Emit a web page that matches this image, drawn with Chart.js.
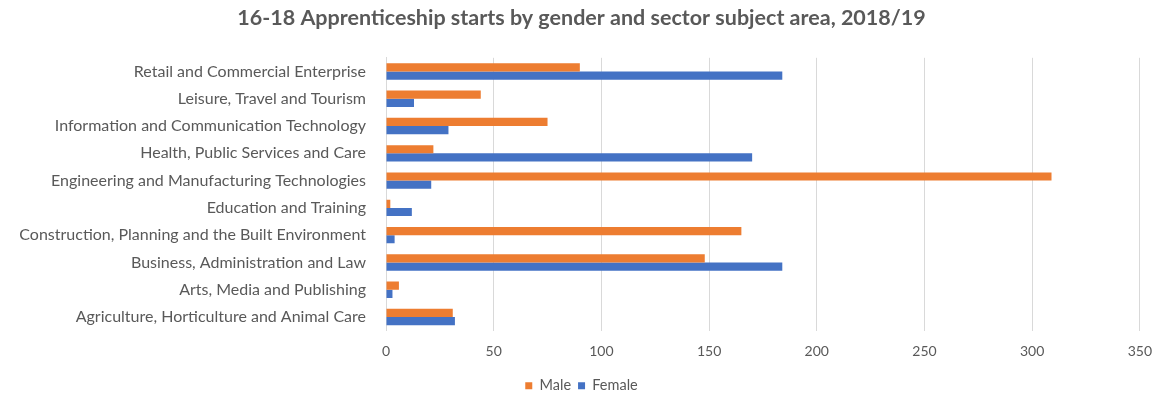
<!DOCTYPE html>
<html>
<head>
<meta charset="utf-8">
<script src="https://cdn.jsdelivr.net/npm/chart.js@4.4.1/dist/chart.umd.min.js"></script>
<style>
  html, body { margin: 0; padding: 0; background: #fff; }
  #wrap { width: 1164px; height: 396px; }
</style>
</head>
<body>
<div id="wrap"><canvas id="grafico"></canvas></div>
<script>
// Datos
const sectores = [
    'Retail and Commercial Enterprise',
    'Leisure, Travel and Tourism',
    'Information and Communication Technology',
    'Health, Public Services and Care',
    'Engineering and Manufacturing Technologies',
    'Education and Training',
    'Construction, Planning and the Built Environment',
    'Business, Administration and Law',
    'Arts, Media and Publishing',
    'Agriculture, Horticulture and Animal Care'
];
const hombres = [90, 44, 75, 22, 309, 2, 165, 148, 6, 31];
const mujeres = [184, 13, 29, 170, 21, 12, 4, 184, 3, 32];
const ticksX = [0, 50, 100, 150, 200, 250, 300, 350];

const gris = '#595959';
const fuente = 'Lato, "Noto Sans", sans-serif';

const ctx = document.getElementById('grafico').getContext('2d');
new Chart(ctx, {
    type: 'bar',
    data: {
        labels: sectores,
        datasets: [{
            label: 'Male',
            data: hombres,
            backgroundColor: '#ED7D31',
            categoryPercentage: 0.6,
            barPercentage: 1.0
        }, {
            label: 'Female',
            data: mujeres,
            backgroundColor: '#4472C4',
            categoryPercentage: 0.6,
            barPercentage: 1.0
        }]
    },
    options: {
        indexAxis: 'y',
        responsive: true,
        maintainAspectRatio: false,
        animation: false,
        layout: { padding: { left: 4, right: 5, top: 1, bottom: -7 } },
        plugins: {
            title: {
                display: true,
                text: '16-18 Apprenticeship starts by gender and sector subject area, 2018/19',
                color: gris,
                font: { family: fuente, size: 21.5, weight: 'bold' },
                padding: { top: 4, bottom: 27 }
            },
            legend: {
                position: 'bottom',
                labels: {
                    color: gris,
                    font: { family: fuente, size: 14.5 },
                    boxWidth: 7,
                    boxHeight: 7,
                    padding: 7
                }
            },
            tooltip: { enabled: false }
        },
        scales: {
            x: {
                min: 0,
                max: 350,
                afterBuildTicks: (eje) => { eje.ticks = ticksX.map(v => ({ value: v })); },
                grid: { color: '#D9D9D9', lineWidth: 1, drawTicks: false },
                border: { display: false },
                ticks: {
                    color: gris,
                    font: { family: fuente, size: 14 },
                    padding: 12
                }
            },
            y: {
                afterFit: (eje) => { eje.width = 382; },
                grid: { display: false },
                border: { display: true, color: '#D9D9D9' },
                ticks: {
                    color: gris,
                    font: { family: fuente, size: 16 },
                    padding: 12,
                    autoSkip: false
                }
            }
        }
    }
});
</script>
</body>
</html>
